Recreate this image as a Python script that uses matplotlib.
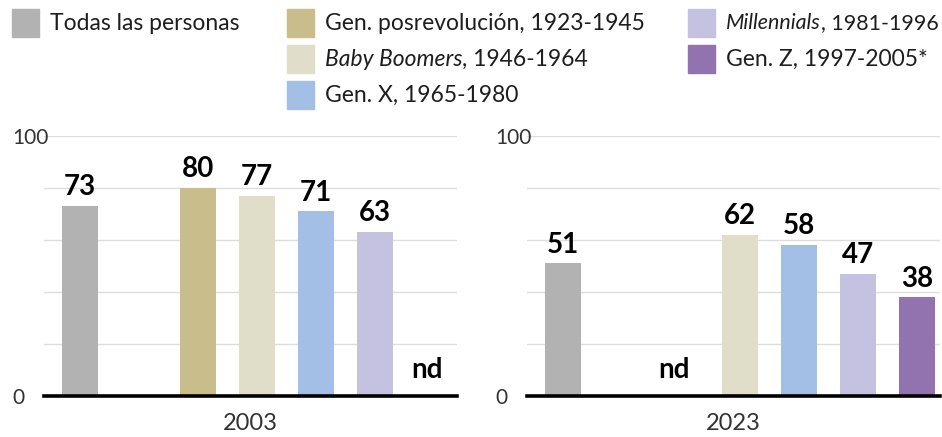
import matplotlib
matplotlib.use("Agg")
import matplotlib.pyplot as plt
from matplotlib.patches import Rectangle

# categories and values (None = no data, shown as "nd")
groups = ["Todas las personas", "Gen. posrevolución", "Baby Boomers",
          "Gen. X", "Millennials", "Gen. Z"]
legend_italic = ["", "", "Baby Boomers", "", "Millennials", ""]
legend_rest = ["Todas las personas", "Gen. posrevolución, 1923-1945",
               ", 1946-1964", "Gen. X, 1965-1980", ", 1981-1996",
               "Gen. Z, 1997-2005*"]
colors = ["#b2b2b2", "#c9bd8b", "#e0ddc8", "#a3bfe6", "#c5c1e0", "#9273b0"]
years = ["2003", "2023"]
values_2003 = [73, 80, 77, 71, 63, None]
values_2023 = [51, None, 62, 58, 47, 38]

FONT = "Lato"
plt.rcParams["font.family"] = [FONT, "DejaVu Sans"]
TXT = "#1e1e1e"

W, H = 942, 437
fig = plt.figure(figsize=(W / 100, H / 100), dpi=100)

# slot positions: "all people" bar, then a gap, then the generations
slots = [0, 2, 3, 4, 5, 6]


def px_box(x0, y0, x1, y1):
    return [x0 / W, 1 - y1 / H, (x1 - x0) / W, (y1 - y0) / H]


def draw_panel(ax, vals, year):
    for x, v, c in zip(slots, vals, colors):
        if v is None:
            ax.annotate("nd", (x, 0), xytext=(-5, 9), textcoords="offset points",
                        ha="center", va="bottom", fontsize=20,
                        fontweight="bold", color="black")
            continue
        ax.bar(x, v, width=0.61, color=c, zorder=2)
        ax.annotate(str(v), (x, v), xytext=(0, 4), textcoords="offset points",
                    ha="center", va="bottom", fontsize=20,
                    fontweight="bold", color="black")
    ax.set_xlim(-0.61, 6.39)
    ax.set_ylim(0, 100)
    for g in range(20, 101, 20):
        ax.axhline(g, color="#dddddd", lw=1.0, zorder=1)
    ax.axhline(0, color="black", lw=2.6, zorder=3, clip_on=False)
    for s in ax.spines.values():
        s.set_visible(False)
    ax.set_xticks([])
    ax.set_yticks([0, 100])
    ax.set_yticklabels(["0", "100"])
    ax.tick_params(axis="y", length=0, pad=23, labelsize=15,
                   labelcolor="#333333")
    for lab in ax.get_yticklabels():
        lab.set_horizontalalignment("left")
    ax.text(0.5, -0.105, year, transform=ax.transAxes, ha="center",
            va="center", fontsize=17, color="#333333")


ax1 = fig.add_axes(px_box(44, 135.7, 457, 396))
ax2 = fig.add_axes(px_box(527, 135.7, 940, 396))
draw_panel(ax1, values_2003, years[0])
draw_panel(ax2, values_2023, years[1])

# legend drawn by hand: three columns, partly italic labels
legend_pos = [(12, 23), (287, 23), (287, 59), (287, 95), (688, 23), (688, 59)]
fig.canvas.draw()
renderer = fig.canvas.get_renderer()


def legend_label(x, y, it, rest, size):
    parts = []
    tx = x
    if it:
        t = fig.text(tx / W, 1 - y / H, it, ha="left", va="center",
                     fontsize=size, fontstyle="italic", color=TXT)
        tx += t.get_window_extent(renderer).width
        parts.append(t)
    t = fig.text(tx / W, 1 - y / H, rest, ha="left", va="center",
                 fontsize=size, color=TXT)
    parts.append(t)
    return parts, tx + t.get_window_extent(renderer).width


for (x, y), c, it, rest in zip(legend_pos, colors, legend_italic, legend_rest):
    fig.patches.append(Rectangle((x / W, 1 - (y + 13.5) / H), 27 / W, 27 / H,
                                 transform=fig.transFigure, color=c,
                                 figure=fig))
    size = 16.5
    parts, end = legend_label(x + 38, y, it, rest, size)
    if end > W - 4:
        # shrink the label so that it stays inside the picture
        for p in parts:
            p.remove()
        size *= (W - 4 - x - 38) / (end - x - 38)
        legend_label(x + 38, y, it, rest, size)

fig.savefig("out.png", dpi=100)
